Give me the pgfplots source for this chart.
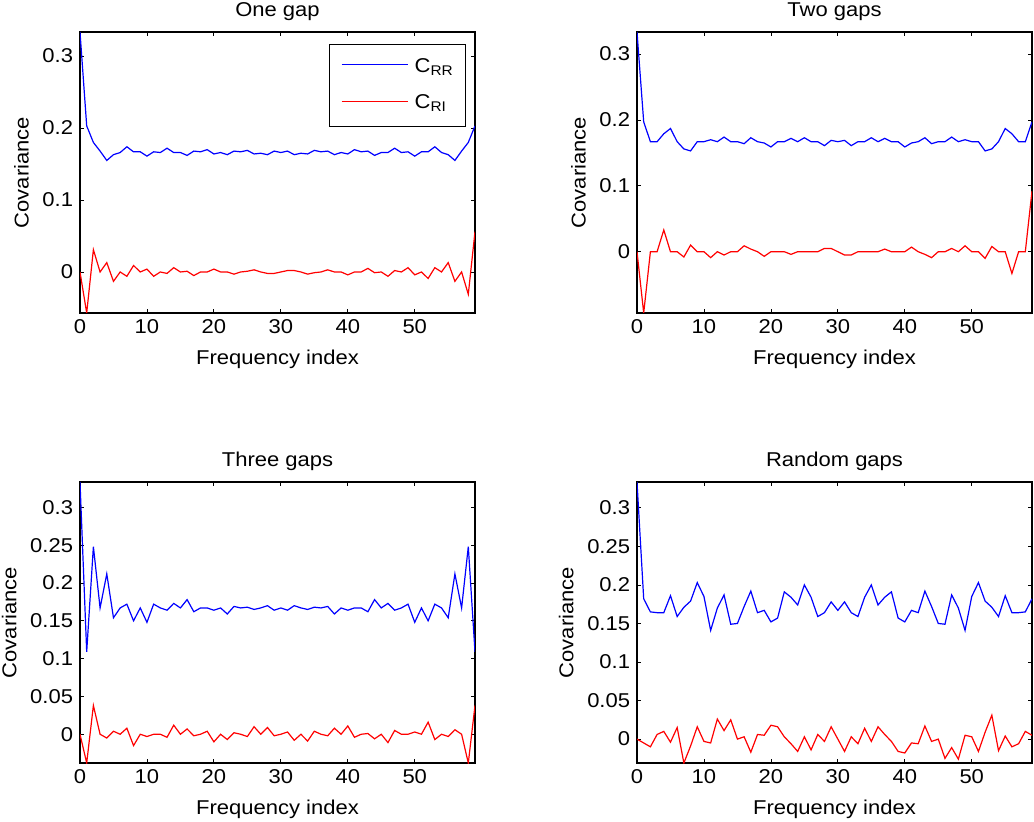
\documentclass[border=0pt]{standalone}
\usepackage{pgfplots}
\usepackage{pgfplotstable}
\pgfplotsset{compat=1.18}
\usepackage{fontspec}
\setmainfont{Liberation Sans}[FakeStretch=1.1]

\pgfplotstableread{
x rr ri
0 0.3335 0
1 0.203 -0.057
2 0.180 0.031
3 0.168 0
4 0.155 0.013
5 0.163 -0.013
6 0.166 0
7 0.174 -0.006
8 0.167 0.009
9 0.167 0
10 0.161 0.004
11 0.167 -0.006
12 0.166 0
13 0.172 -0.002
14 0.166 0.006
15 0.166 0
16 0.162 0.001
17 0.168 -0.005
18 0.167 0
19 0.170 0
20 0.164 0.004
21 0.166 0
22 0.163 0
23 0.168 -0.003
24 0.167 0
25 0.169 0.001
26 0.164 0.003
27 0.165 0
28 0.163 -0.002
29 0.168 -0.002
30 0.166 0
31 0.168 0.002
32 0.163 0.002
33 0.165 0
34 0.164 -0.003
35 0.169 -0.001
36 0.167 0
37 0.168 0.003
38 0.163 0
39 0.166 0
40 0.164 -0.004
41 0.170 0
42 0.167 0
43 0.168 0.005
44 0.162 -0.001
45 0.166 0
46 0.166 -0.006
47 0.172 0.002
48 0.166 0
49 0.167 0.006
50 0.161 -0.004
51 0.167 0
52 0.167 -0.009
53 0.174 0.006
54 0.166 0
55 0.163 0.013
56 0.155 -0.013
57 0.168 0
58 0.180 -0.031
59 0.203 0.056
}\tabA

\pgfplotstableread{
x rr ri
0 0.3335 0
1 0.197 -0.093
2 0.167 0
3 0.167 0
4 0.179 0.033
5 0.187 0
6 0.167 0
7 0.156 -0.008
8 0.153 0.010
9 0.167 0
10 0.167 0
11 0.170 -0.009
12 0.167 0
13 0.174 -0.005
14 0.167 0
15 0.167 0
16 0.164 0.009
17 0.173 0.004
18 0.167 0
19 0.165 -0.007
20 0.159 0
21 0.167 0
22 0.167 0
23 0.172 -0.004
24 0.167 0
25 0.173 0
26 0.167 0
27 0.167 0
28 0.161 0.005
29 0.169 0.005
30 0.167 0
31 0.169 -0.005
32 0.161 -0.005
33 0.167 0
34 0.167 0
35 0.173 0
36 0.167 0
37 0.172 0.004
38 0.167 0
39 0.167 0
40 0.159 0
41 0.165 0.007
42 0.167 0
43 0.173 -0.004
44 0.164 -0.009
45 0.167 0
46 0.167 0
47 0.174 0.005
48 0.167 0
49 0.170 0.009
50 0.167 0
51 0.167 0
52 0.153 -0.010
53 0.156 0.008
54 0.167 0
55 0.187 0
56 0.179 -0.033
57 0.167 0
58 0.167 0
59 0.197 0.092
}\tabB

\pgfplotstableread{
x rr ri
0 0.3335 0
1 0.109 -0.038
2 0.248 0.038
3 0.167 0
4 0.212 -0.005
5 0.154 0.004
6 0.167 0
7 0.172 0.008
8 0.150 -0.015
9 0.167 0
10 0.148 -0.003
11 0.172 0
12 0.167 0
13 0.164 -0.004
14 0.173 0.012
15 0.167 0
16 0.178 0.007
17 0.162 -0.002
18 0.167 0
19 0.167 0.004
20 0.164 -0.010
21 0.167 0
22 0.159 -0.007
23 0.169 0.002
24 0.167 0
25 0.168 -0.003
26 0.165 0.010
27 0.167 0
28 0.170 0.009
29 0.164 -0.002
30 0.167 0
31 0.164 0.003
32 0.170 -0.008
33 0.167 0
34 0.165 -0.009
35 0.168 0.004
36 0.167 0
37 0.169 -0.002
38 0.159 0.008
39 0.167 0
40 0.164 0.011
41 0.167 -0.004
42 0.167 0
43 0.162 0.001
44 0.178 -0.006
45 0.167 0
46 0.173 -0.011
47 0.164 0.005
48 0.167 0
49 0.172 0
50 0.148 0.003
51 0.167 0
52 0.150 0.016
53 0.172 -0.007
54 0.167 0
55 0.154 -0.003
56 0.212 0.006
57 0.167 0
58 0.248 -0.038
59 0.109 0.038
}\tabC

\pgfplotstableread{
x rr ri
0 0.3335 0
1 0.182 -0.005
2 0.165 -0.010
3 0.164 0.006
4 0.164 0.010
5 0.186 -0.004
6 0.159 0.015
7 0.171 -0.031
8 0.179 -0.009
9 0.203 0.016
10 0.185 -0.003
11 0.141 -0.005
12 0.170 0.026
13 0.187 0.011
14 0.149 0.025
15 0.150 0
16 0.172 0.003
17 0.192 -0.017
18 0.164 0.006
19 0.167 0.005
20 0.152 0.018
21 0.157 0.016
22 0.191 0.003
23 0.184 -0.006
24 0.174 -0.016
25 0.200 0.003
26 0.184 -0.014
27 0.159 0.006
28 0.164 -0.003
29 0.178 0.016
30 0.167 0
31 0.178 -0.016
32 0.164 0.003
33 0.159 -0.006
34 0.184 0.014
35 0.200 -0.003
36 0.174 0.016
37 0.184 0.006
38 0.191 -0.003
39 0.157 -0.016
40 0.152 -0.018
41 0.167 -0.005
42 0.164 -0.006
43 0.192 0.017
44 0.172 -0.003
45 0.150 0
46 0.149 -0.025
47 0.187 -0.011
48 0.170 -0.026
49 0.141 0.005
50 0.185 0.003
51 0.203 -0.016
52 0.179 0.009
53 0.171 0.031
54 0.159 -0.015
55 0.186 0.004
56 0.164 -0.010
57 0.164 -0.006
58 0.165 0.010
59 0.182 0.005
}\tabD

\pgfplotsset{
  mlab/.style={
    scale only axis, width=296.25pt, height=210.75pt,
    xmin=0, xmax=59, ymax=0.3335,
    xtick={0,10,20,30,40,50}, xticklabels={0,10,20,30,40,50},
    tick align=inside, major tick length=3pt,
    axis line style={line width=0.9pt},
    every tick/.style={black, line width=0.6pt},
    xlabel={Frequency index}, ylabel={Covariance},
    title style={yshift=-2.5pt},
    xlabel style={yshift=-2pt},
    /pgf/number format/assume math mode=true,
    clip=true,
  },
}

\begin{document}
\fontsize{15pt}{18pt}\selectfont
\begin{tikzpicture}
\useasboundingbox (0,0) rectangle (775.5pt,615.75pt);

\begin{axis}[mlab, at={(60pt,381pt)}, title={One gap}, ymin=-0.057,
  ytick={0,0.1,0.2,0.3}, yticklabels={0,0.1,0.2,0.3}]
\addplot[blue, line width=0.9pt, no markers] table[x=x,y=rr] {\tabA};
\addplot[red, line width=0.9pt, no markers] table[x=x,y=ri] {\tabA};
\node[draw=black, line width=0.75pt, fill=white, anchor=north east,
  inner xsep=9pt, inner ysep=8pt] at (rel axis cs:0.977,0.957)
  {\begin{tabular}{@{}l@{\hspace{5.25pt}}l@{}}
   \textcolor{blue}{\rule[5pt]{49.5pt}{0.9pt}} & C\textsubscript{RR}\\[9.5pt]
   \textcolor{red}{\rule[5pt]{49.5pt}{0.9pt}} & C\textsubscript{RI}
   \end{tabular}};
\end{axis}

\begin{axis}[mlab, at={(477.75pt,381pt)}, title={Two gaps}, ymin=-0.093,
  ytick={0,0.1,0.2,0.3}, yticklabels={0,0.1,0.2,0.3}]
\addplot[blue, line width=0.9pt, no markers] table[x=x,y=rr] {\tabB};
\addplot[red, line width=0.9pt, no markers] table[x=x,y=ri] {\tabB};
\end{axis}

\begin{axis}[mlab, at={(60pt,43.5pt)}, title={Three gaps}, ymin=-0.038,
  ytick={0,0.05,0.1,0.15,0.2,0.25,0.3}, yticklabels={0,0.05,0.1,0.15,0.2,0.25,0.3}]
\addplot[blue, line width=0.9pt, no markers] table[x=x,y=rr] {\tabC};
\addplot[red, line width=0.9pt, no markers] table[x=x,y=ri] {\tabC};
\end{axis}

\begin{axis}[mlab, at={(477.75pt,43.5pt)}, title={Random gaps}, ymin=-0.031,
  ytick={0,0.05,0.1,0.15,0.2,0.25,0.3}, yticklabels={0,0.05,0.1,0.15,0.2,0.25,0.3}]
\addplot[blue, line width=0.9pt, no markers] table[x=x,y=rr] {\tabD};
\addplot[red, line width=0.9pt, no markers] table[x=x,y=ri] {\tabD};
\end{axis}
\end{tikzpicture}
\end{document}
